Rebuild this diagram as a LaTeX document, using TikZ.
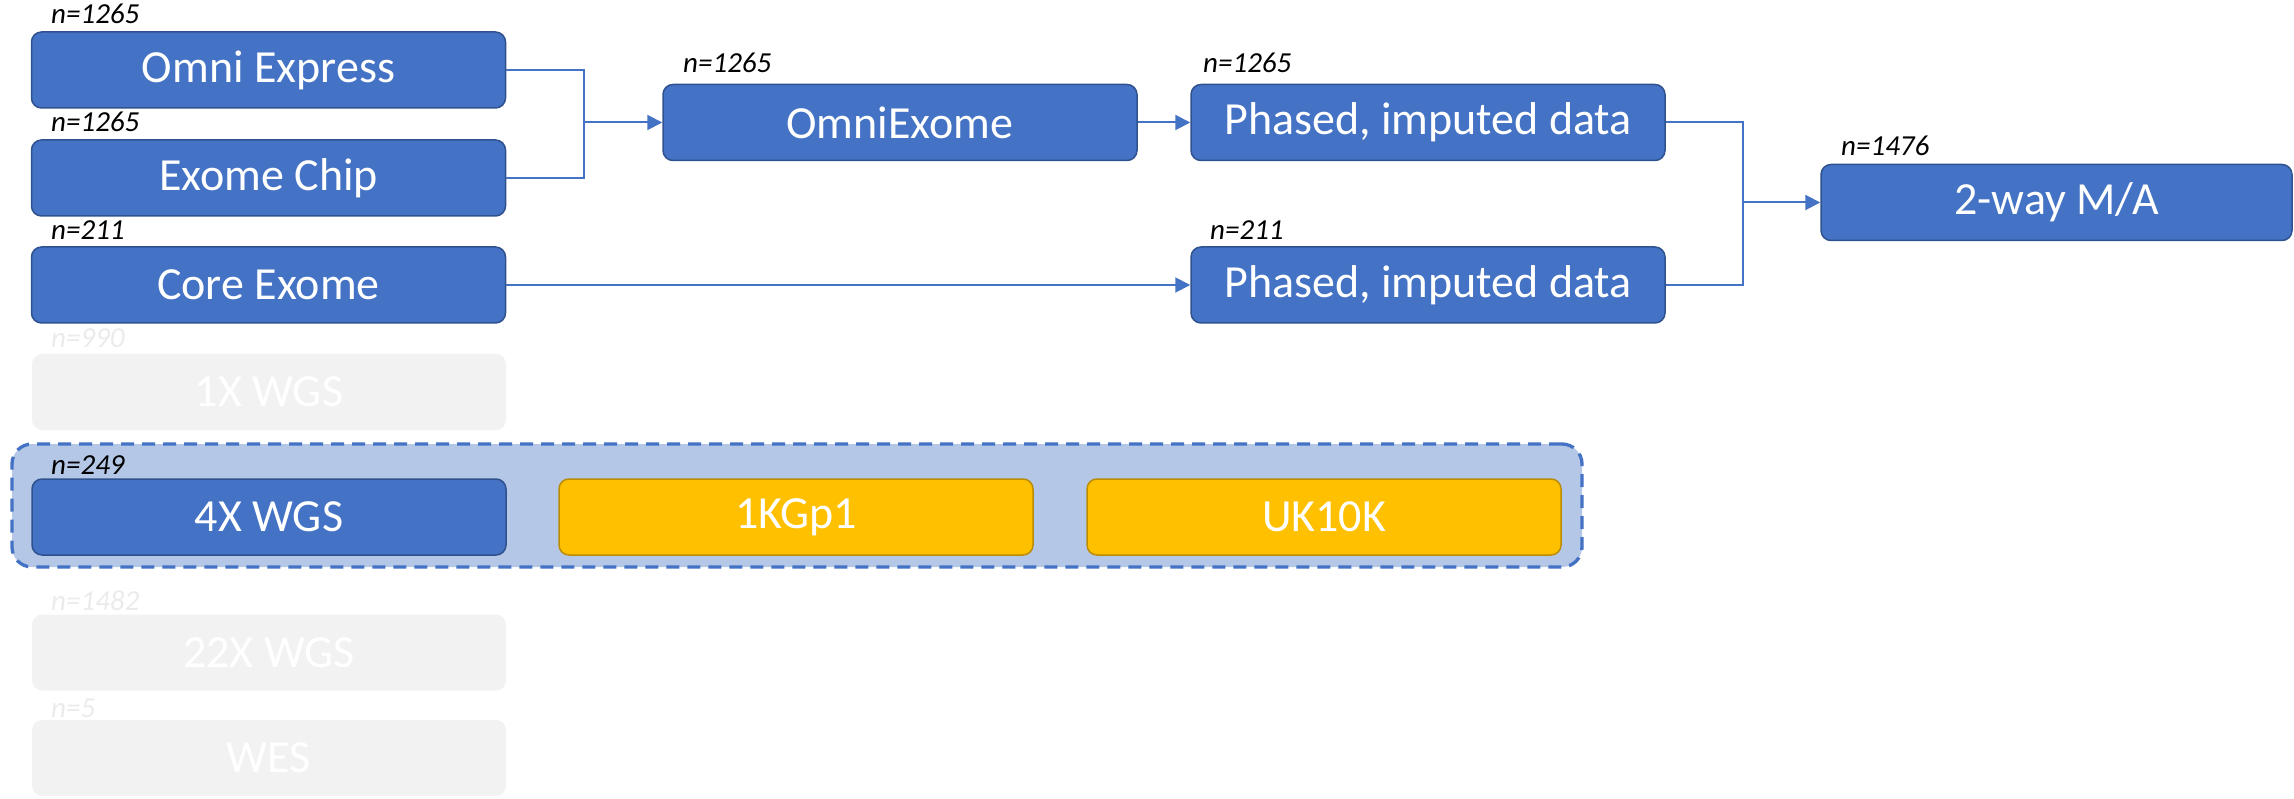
\documentclass[tikz,border=0pt]{standalone}
\usepackage{fontspec}
\setmainfont{Carlito}
\usetikzlibrary{arrows.meta}
\definecolor{oblue}{HTML}{4472C4}
\definecolor{oblueb}{HTML}{2F528F}
\definecolor{ogold}{HTML}{FFC000}
\definecolor{ogoldb}{HTML}{BC8C00}
\definecolor{olight}{HTML}{B4C7E7}
\definecolor{ogrey}{HTML}{F2F2F2}
\definecolor{ogreytxt}{HTML}{EBEBEB}
\tikzset{
  box/.style={rounded corners=10pt, minimum width=474pt, minimum height=76pt,
    inner sep=0pt, text=white, font=\fontsize{46}{50}\selectfont, line width=1.5pt},
  bluebox/.style={box, fill=oblue, draw=oblueb},
  goldbox/.style={box, fill=ogold, draw=ogoldb},
  greybox/.style={box, fill=ogrey},
  nlab/.style={anchor=base west, inner sep=0pt, font=\fontsize{29}{32}\selectfont\itshape},
  greylab/.style={nlab, text=ogreytxt},
  conn/.style={draw=oblue, line width=2pt},
  arr/.style={conn, -{Triangle[length=15pt,width=15pt]}},
  group/.style={rounded corners=20pt, fill=olight, draw=oblue, line width=3.3pt,
    dash pattern=on 13pt off 8pt, minimum width=1570pt, minimum height=123pt, inner sep=0pt}
}
\begin{document}
\begin{tikzpicture}[x=1pt,y=-1pt]
\useasboundingbox (0,0) rectangle (2294,799);
% dashed group
\node[group] (grp) at (797,505.5) {};
% left column
\node[bluebox] (omni) at (268.5,70) {Omni Express};
\node[nlab] (lomni) at (51,24) {n=1265};
\node[bluebox] (chip) at (268.5,178) {Exome Chip};
\node[nlab] (lchip) at (51,132) {n=1265};
\node[bluebox] (core) at (268.5,285) {Core Exome};
\node[nlab] (lcore) at (51,240) {n=211};
\node[greybox] (w1) at (269,392) {1X WGS};
\node[greylab] (lw1) at (51,348) {n=990};
\node[bluebox] (w4) at (269,517) {4X WGS};
\node[nlab] (lw4) at (51,474) {n=249};
\node[goldbox] (kg) at (796,517) {1KGp1};
\node[goldbox] (uk) at (1324,517) {UK10K};
\node[greybox] (w22) at (269,652.5) {22X WGS};
\node[greylab] (lw22) at (51,610) {n=1482};
\node[greybox] (wes) at (269,758) {WES};
\node[greylab] (lwes) at (51,717) {n=5};
% middle
\node[bluebox] (oe) at (900,122.5) {OmniExome};
\node[nlab] (loe) at (683,73) {n=1265};
\node[bluebox] (ph1) at (1428,122.5) {Phased, imputed data};
\node[nlab] (lph1) at (1203,73) {n=1265};
\node[bluebox] (ph2) at (1428,285) {Phased, imputed data};
\node[nlab] (lph2) at (1210,240) {n=211};
% right
\node[bluebox, minimum width=471pt] (ma) at (2056.5,202.5) {2-way M/A};
\node[nlab] (lma) at (1841,156) {n=1476};
% connectors
\coordinate (j1) at (584,122.5);
\coordinate (j2) at (1743,202.5);
\draw[conn] (omni.east) -| (j1) |- (chip.east);
\draw[arr] (j1) -- (oe.west);
\draw[arr] (oe.east) -- (ph1.west);
\draw[arr] (core.east) -- (ph2.west);
\draw[conn] (ph1.east) -| (j2) |- (ph2.east);
\draw[arr] (j2) -- (ma.west);
\end{tikzpicture}
\end{document}
